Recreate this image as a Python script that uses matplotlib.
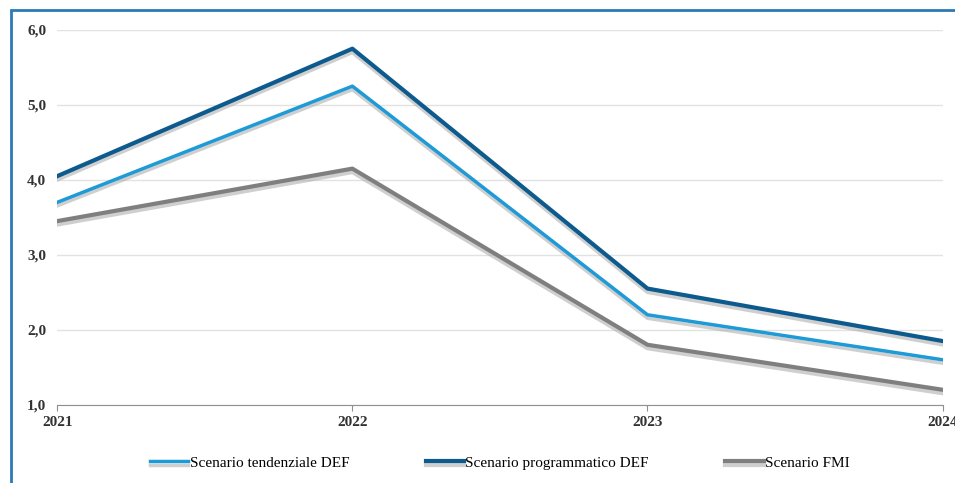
import matplotlib.pyplot as plt
import matplotlib.patheffects as pe
from matplotlib.patches import Rectangle

years = ["2021", "2022", "2023", "2024"]
tendenziale = [3.7, 5.25, 2.2, 1.6]
programmatico = [4.05, 5.75, 2.55, 1.85]
fmi = [3.45, 4.15, 1.8, 1.2]

plt.rcParams['font.family'] = ['Liberation Serif', 'DejaVu Serif']

fig = plt.figure(figsize=(9.55, 4.83), dpi=100)
ax = fig.add_axes([0.06, 0.162, 0.927, 0.776])

# blue frame around the picture
fig.patches.append(Rectangle((0.011, -0.05), 1.1, 1.03, transform=fig.transFigure,
                             fill=False, edgecolor='#2a7ab8', linewidth=2))

shadow = [pe.SimpleLineShadow(offset=(0, -2.5), shadow_color='#b0b0b0', alpha=0.6), pe.Normal()]
x = range(len(years))
ax.plot(x, tendenziale, color='#1e9ad6', lw=2.5, label='Scenario tendenziale DEF', path_effects=shadow)
ax.plot(x, programmatico, color='#0d5b8e', lw=3, label='Scenario programmatico DEF', path_effects=shadow)
ax.plot(x, fmi, color='#7f7f7f', lw=3, label='Scenario FMI', path_effects=shadow)

ax.set_ylim(1.0, 6.0)
ax.set_xlim(0, 3)
ax.set_yticks([1, 2, 3, 4, 5, 6])
ax.set_yticklabels(['1,0', '2,0', '3,0', '4,0', '5,0', '6,0'])
ax.set_xticks(list(x))
ax.set_xticklabels(years)
ax.grid(axis='y', color='#e2e2e2', lw=1)
ax.set_axisbelow(True)
for s in ['top', 'right', 'left']:
    ax.spines[s].set_visible(False)
ax.spines['bottom'].set_color('#909090')
ax.tick_params(axis='y', length=0, labelsize=11, pad=8)
ax.tick_params(axis='x', length=4, color='#909090', labelsize=11, pad=4)
for lbl in ax.get_xticklabels() + ax.get_yticklabels():
    lbl.set_fontweight('bold')
    lbl.set_color('#333333')

ax.legend(loc='upper center', bbox_to_anchor=(0.5, -0.1), ncol=3, frameon=False,
          fontsize=11, handlelength=2.5, handletextpad=0.1, columnspacing=5)

fig.savefig('out.png', dpi=100)
